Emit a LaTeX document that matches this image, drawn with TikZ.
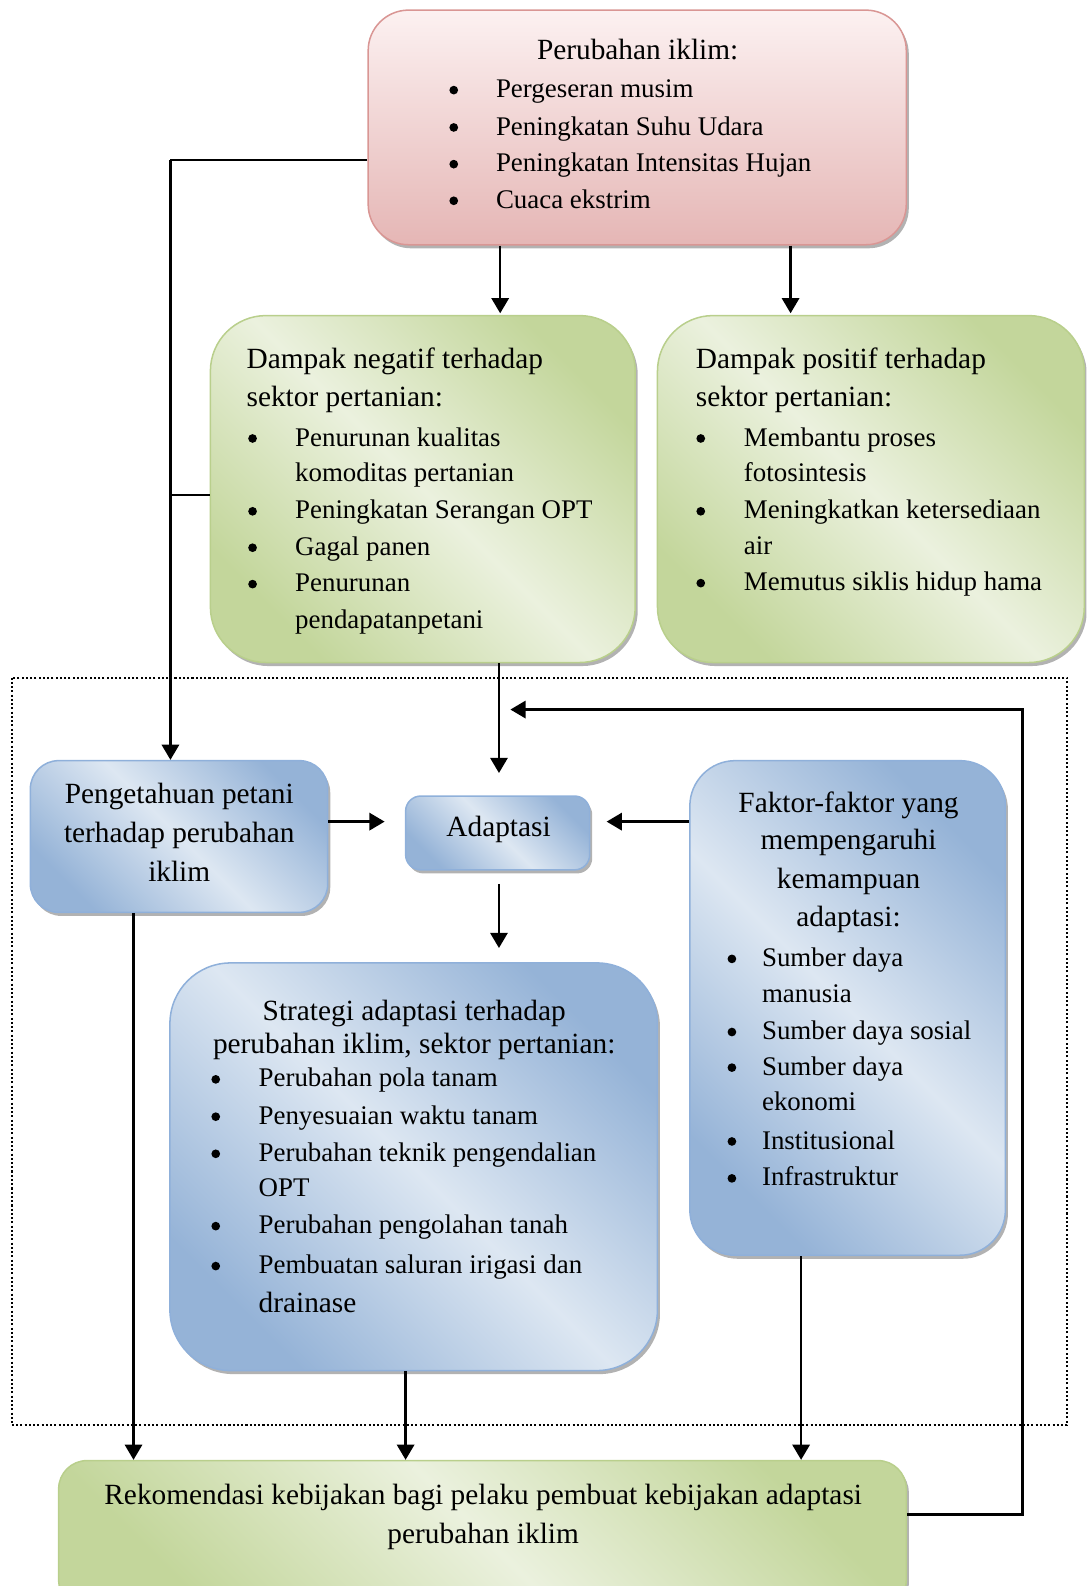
\documentclass[tikz,border=0pt]{standalone}
\usepackage{fontspec}
\setmainfont{Liberation Serif}
\usetikzlibrary{arrows.meta,shadows}
\definecolor{bdark}{HTML}{95B3D7}
\definecolor{blight}{HTML}{DDE7F2}
\definecolor{bborder}{HTML}{8FB0DA}
\definecolor{gdark}{HTML}{C3D69B}
\definecolor{glight}{HTML}{EBF1DE}
\definecolor{gborder}{HTML}{B9CF8C}
\definecolor{rtop}{HTML}{FCF1F1}
\definecolor{rbot}{HTML}{E5B6B5}
\definecolor{rborder}{HTML}{D99694}
\tikzset{
  shbox/.style={line width=1.5pt, inner sep=0pt, rounded corners=#1,
    drop shadow={shadow xshift=2.5pt, shadow yshift=-3.5pt, fill=black!55, opacity=0.55}},
  bluebox/.style={shbox=#1, draw=bborder, top color=bdark, bottom color=bdark, middle color=blight, shading angle=-45},
  greenbox/.style={shbox=#1, draw=gborder, top color=gdark, bottom color=gdark, middle color=glight, shading angle=-45},
  redbox/.style={shbox=#1, draw=rborder, top color=rtop, bottom color=rbot},
  big/.style={font=\fontsize{29}{35}\selectfont, inner sep=0pt},
  sm/.style={font=\fontsize{26.6}{32}\selectfont, inner sep=0pt},
  bul/.style={circle, fill=black, inner sep=0pt, minimum size=8.6pt},
  conn/.style={line width=2.5pt},
  arr/.style={line width=2.5pt, -{Triangle[length=15pt,width=17pt]}},
}
\begin{document}
\begin{tikzpicture}[x=1pt,y=-1pt]
\useasboundingbox (0,0) rectangle (1074,1568);
\clip (0,0) rectangle (1074,1568);
% dotted frame
\draw[line width=2pt, dash pattern=on 2pt off 2.2pt] (11.5,670) rectangle (1055,1409);
% boxes
\node[redbox=40pt, minimum width=532pt, minimum height=232pt] (top) at (630,126) {};
\node[greenbox=55pt, minimum width=420pt, minimum height=343pt] (neg) at (418,483.5) {};
\node[greenbox=55pt, minimum width=422pt, minimum height=343pt] (pos) at (861,483.5) {};
\node[bluebox=28pt, minimum width=294pt, minimum height=150pt] (peng) at (177,827) {};
\node[bluebox=15pt, minimum width=182pt, minimum height=73pt] (adapt) at (492,823.5) {};
\node[bluebox=45pt, minimum width=312pt, minimum height=489pt] (faktor) at (838,996.5) {};
\node[bluebox=60pt, minimum width=482pt, minimum height=403pt] (strat) at (409,1153.5) {};
\node[greenbox=28pt, minimum width=838pt, minimum height=146pt] (bottom) at (477,1517) {};
% connector helper coordinates
\coordinate (cA) at (494.5,0);
\coordinate (cB) at (781.6,0);
\coordinate (cC) at (493.3,0);
\coordinate (cD) at (132,0);
\coordinate (cE) at (401,0);
\coordinate (cF) at (792,0);
\coordinate (cG) at (168.5,158);
\coordinate (cH) at (1011,701.5);
\coordinate (cI) at (504.6,701.5);
\coordinate (cJ) at (0,812.3);
\coordinate (cK) at (1011,1497.5);
\coordinate (cM) at (0,489.5);
% connectors
\draw[arr, shorten >=1.5pt] (top.south -| cA) -- (neg.north -| cA);
\draw[arr, shorten >=1.5pt] (top.south -| cB) -- (pos.north -| cB);
\draw[conn] (top.west |- cG) -- (cG);
\draw[arr] (cG) -- (peng.north -| cG);
\draw[conn] (neg.west |- cM) -- (cG |- cM);
\draw[arr, shorten >=22pt] (neg.south -| cC) -- (adapt.north -| cC);
\draw[arr, shorten >=20pt] (peng.east |- cJ) -- (adapt.west |- cJ);
\draw[arr, shorten >=16pt] (faktor.west |- cJ) -- (adapt.east |- cJ);
\draw[arr, shorten <=13pt, shorten >=14pt] (adapt.south -| cC) -- (strat.north -| cC);
\draw[arr] (peng.south -| cD) -- (bottom.north -| cD);
\draw[arr] (strat.south -| cE) -- (bottom.north -| cE);
\draw[arr] (faktor.south -| cF) -- (bottom.north -| cF);
\draw[arr] (bottom.east |- cK) -- (cK) -- (cH) -- (cI);
% top box text
\node[big, anchor=base] (t0) at (630.4,58.7) {Perubahan iklim:};
\node[bul] (tb1) at (448.6,89.1) {};
\node[sm, anchor=base west] (tt1) at (490.2,96.6) {Pergeseran musim};
\node[bul] (tb2) at (448.6,126) {};
\node[sm, anchor=base west] (tt2) at (490.2,133.5) {Peningkatan Suhu Udara};
\node[bul] (tb3) at (448.6,162.3) {};
\node[sm, anchor=base west] (tt3) at (490.2,169.8) {Peningkatan Intensitas Hujan};
\node[bul] (tb4) at (448.6,198.5) {};
\node[sm, anchor=base west] (tt4) at (490.2,206) {Cuaca ekstrim};
% negative box text
\node[big, anchor=base west] (n0) at (243.6,364.3) {Dampak negatif terhadap};
\node[big, anchor=base west] (n1) at (243.6,401.5) {sektor pertanian:};
\node[bul] (nb1) at (249.7,433.5) {};
\node[sm, anchor=base west] (nt1) at (291.6,441) {Penurunan kualitas};
\node[sm, anchor=base west] (nt2) at (291.6,476) {komoditas pertanian};
\node[bul] (nb3) at (249.7,505.5) {};
\node[sm, anchor=base west] (nt3) at (291.6,513) {Peningkatan Serangan OPT};
\node[bul] (nb4) at (249.7,541.5) {};
\node[sm, anchor=base west] (nt4) at (291.6,549) {Gagal panen};
\node[bul] (nb5) at (249.7,577.5) {};
\node[sm, anchor=base west] (nt5) at (291.6,585) {Penurunan};
\node[sm, anchor=base west] (nt6) at (291.6,621) {pendapatanpetani};
% positive box text
\node[big, anchor=base west] (p0) at (687.8,364.3) {Dampak positif terhadap};
\node[big, anchor=base west] (p1) at (687.8,401.5) {sektor pertanian:};
\node[bul] (pb1) at (692.8,433.5) {};
\node[sm, anchor=base west] (pt1) at (735.3,441) {Membantu proses};
\node[sm, anchor=base west] (pt2) at (735.3,476) {fotosintesis};
\node[bul] (pb3) at (692.8,505.5) {};
\node[sm, anchor=base west] (pt3) at (735.3,513) {Meningkatkan ketersediaan};
\node[sm, anchor=base west] (pt4) at (735.3,548) {air};
\node[bul] (pb5) at (692.8,576.5) {};
\node[sm, anchor=base west] (pt5) at (735.3,584) {Memutus siklis hidup hama};
% pengetahuan
\node[big, anchor=base] (k1) at (177.2,794.4) {Pengetahuan petani};
\node[big, anchor=base] (k2) at (177.2,833.3) {terhadap perubahan};
\node[big, anchor=base] (k3) at (177.2,871.9) {iklim};
% adaptasi
\node[big, anchor=base] (a1) at (492.9,827.4) {Adaptasi};
% faktor
\node[big, anchor=base] (f1) at (838.9,803) {Faktor-faktor yang};
\node[big, anchor=base] (f2) at (838.9,840.2) {mempengaruhi};
\node[big, anchor=base] (f3) at (838.9,878.5) {kemampuan};
\node[big, anchor=base] (f4) at (838.9,916.4) {adaptasi:};
\node[bul] (fb1) at (723.6,948) {};
\node[sm, anchor=base west] (ft1) at (753.2,955.5) {Sumber daya};
\node[sm, anchor=base west] (ft2) at (753.2,990.7) {manusia};
\node[bul] (fb3) at (723.6,1020.3) {};
\node[sm, anchor=base west] (ft3) at (753.2,1027.8) {Sumber daya sosial};
\node[bul] (fb4) at (723.6,1055.5) {};
\node[sm, anchor=base west] (ft4) at (753.2,1063) {Sumber daya};
\node[sm, anchor=base west] (ft5) at (753.2,1098.2) {ekonomi};
\node[bul] (fb6) at (723.6,1128.5) {};
\node[sm, anchor=base west] (ft6) at (753.2,1136) {Institusional};
\node[bul] (fb7) at (723.6,1165) {};
\node[sm, anchor=base west] (ft7) at (753.2,1172.5) {Infrastruktur};
% strategi
\node[big, anchor=base] (s1) at (409.5,1008.7) {Strategi adaptasi terhadap};
\node[big, anchor=base] (s2) at (409.5,1041.7) {perubahan iklim, sektor pertanian:};
\node[bul] (sb1) at (213.3,1067.1) {};
\node[sm, anchor=base west] (st1) at (255.5,1074.6) {Perubahan pola tanam};
\node[bul] (sb2) at (213.3,1104) {};
\node[sm, anchor=base west] (st2) at (255.5,1111.5) {Penyesuaian waktu tanam};
\node[bul] (sb3) at (213.3,1140.7) {};
\node[sm, anchor=base west] (st3) at (255.5,1148.2) {Perubahan teknik pengendalian};
\node[sm, anchor=base west] (st4) at (255.5,1183.4) {OPT};
\node[bul] (sb5) at (213.3,1212.2) {};
\node[sm, anchor=base west] (st5) at (255.5,1219.7) {Perubahan pengolahan tanah};
\node[bul] (sb6) at (213.3,1251.7) {};
\node[sm, anchor=base west] (st6) at (255.5,1259.2) {Pembuatan saluran irigasi dan};
\node[big, anchor=base west] (st7) at (255.5,1297.2) {drainase};
% bottom
\node[big, anchor=base] (r1) at (477.7,1487.3) {Rekomendasi kebijakan bagi pelaku pembuat kebijakan adaptasi};
\node[big, anchor=base] (r2) at (477.7,1526.2) {perubahan iklim};
\end{tikzpicture}
\end{document}
